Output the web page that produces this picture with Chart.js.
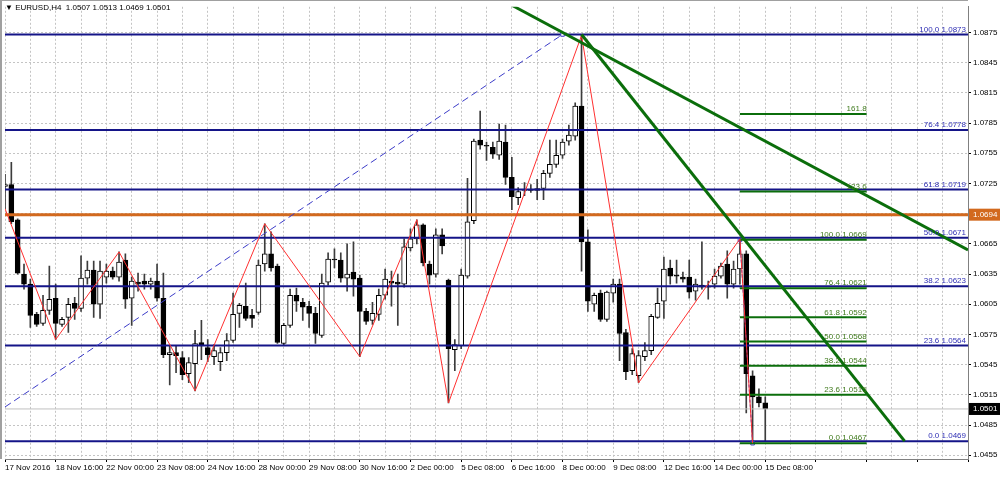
<!DOCTYPE html>
<html>
<head>
<meta charset="utf-8">
<script src="https://cdn.jsdelivr.net/npm/chart.js@4.4.1/dist/chart.umd.min.js"></script>
<style>
html, body { margin: 0; padding: 0; background: #fff; }
#wrap { width: 1000px; height: 477px; }
</style>
</head>
<body>
<div id="wrap"><canvas id="chart" width="1000" height="477"></canvas></div>
<script>
// ------------------------- data -------------------------
const symbol = 'EURUSD,H4';

// H4 candles, bar 0 = 17 Nov 2016 08:00
const opens = [
  1.0722, 1.0724, 1.0689, 1.0635, 1.0625, 1.0595, 1.0586, 1.0599, 1.0611, 1.0585,
  1.0592, 1.0606, 1.0601, 1.0631, 1.0639, 1.0605, 1.0632, 1.0638, 1.0632, 1.0649,
  1.0611, 1.0627, 1.0628, 1.0625, 1.0628, 1.0611, 1.0555, 1.0557, 1.0552, 1.0536,
  1.0546, 1.0567, 1.0562, 1.0553, 1.0548, 1.0557, 1.0569, 1.0596, 1.0603, 1.0594,
  1.0597, 1.0645, 1.0655, 1.0643, 1.0566, 1.0584, 1.0614, 1.0607, 1.0603, 1.0596,
  1.0574, 1.0627, 1.0650, 1.0649, 1.0631, 1.0637, 1.0631, 1.0598, 1.0589, 1.0595,
  1.0614, 1.0628, 1.0627, 1.0625, 1.0661, 1.0670, 1.0684, 1.0645, 1.0635, 1.0674,
  1.0629, 1.0560, 1.0564, 1.0633, 1.0688, 1.0768, 1.0763, 1.0761, 1.0753, 1.0766,
  1.0731, 1.0711, 1.0718, 1.0719, 1.0718, 1.0720, 1.0735, 1.0744, 1.0753, 1.0767,
  1.0772, 1.0802, 1.0667, 1.0605, 1.0616, 1.0590, 1.0616, 1.0625, 1.0577, 1.0539,
  1.0534, 1.0553, 1.0559, 1.0592, 1.0608, 1.0641, 1.0634, 1.0632, 1.0632, 1.0618,
  1.0624, 1.0623, 1.0625, 1.0633, 1.0645, 1.0625, 1.0640, 1.0655, 1.0534, 1.0513,
  1.0507
];
const highs = [
  1.0734, 1.0746, 1.0690, 1.0645, 1.0630, 1.0597, 1.0614, 1.0643, 1.0625, 1.0592,
  1.0611, 1.0612, 1.0653, 1.0648, 1.0648, 1.0648, 1.0645, 1.0642, 1.0657, 1.0655,
  1.0632, 1.0636, 1.0635, 1.0631, 1.0645, 1.0636, 1.0564, 1.0564, 1.0558, 1.0552,
  1.0579, 1.0589, 1.0570, 1.0565, 1.0562, 1.0576, 1.0616, 1.0606, 1.0626, 1.0600,
  1.0649, 1.0685, 1.0677, 1.0645, 1.0586, 1.0620, 1.0621, 1.0611, 1.0608, 1.0602,
  1.0635, 1.0656, 1.0660, 1.0656, 1.0665, 1.0667, 1.0634, 1.0601, 1.0607, 1.0620,
  1.0640, 1.0638, 1.0635, 1.0670, 1.0680, 1.0689, 1.0685, 1.0648, 1.0680, 1.0680,
  1.0630, 1.0570, 1.0640, 1.0730, 1.0769, 1.0797, 1.0766, 1.0766, 1.0784, 1.0783,
  1.0751, 1.0721, 1.0726, 1.0724, 1.0729, 1.0738, 1.0768, 1.0768, 1.0769, 1.0783,
  1.0805, 1.0872, 1.0679, 1.0616, 1.0619, 1.0618, 1.0630, 1.0630, 1.0580, 1.0561,
  1.0559, 1.0567, 1.0595, 1.0621, 1.0652, 1.0649, 1.0649, 1.0637, 1.0649, 1.0630,
  1.0667, 1.0628, 1.0640, 1.0646, 1.0658, 1.0648, 1.0670, 1.0658, 1.0539, 1.0521,
  1.0513
];
const lows = [
  1.0700, 1.0685, 1.0635, 1.0620, 1.0582, 1.0583, 1.0584, 1.0595, 1.0570, 1.0583,
  1.0577, 1.0590, 1.0598, 1.0625, 1.0592, 1.0591, 1.0626, 1.0630, 1.0628, 1.0601,
  1.0584, 1.0618, 1.0620, 1.0620, 1.0608, 1.0552, 1.0525, 1.0537, 1.0530, 1.0527,
  1.0519, 1.0550, 1.0548, 1.0545, 1.0539, 1.0549, 1.0567, 1.0582, 1.0589, 1.0582,
  1.0595, 1.0638, 1.0638, 1.0566, 1.0564, 1.0582, 1.0598, 1.0589, 1.0582, 1.0566,
  1.0572, 1.0624, 1.0641, 1.0627, 1.0618, 1.0613, 1.0553, 1.0585, 1.0585, 1.0589,
  1.0610, 1.0603, 1.0584, 1.0622, 1.0658, 1.0665, 1.0643, 1.0625, 1.0632, 1.0655,
  1.0507, 1.0539, 1.0561, 1.0631, 1.0685, 1.0759, 1.0748, 1.0750, 1.0749, 1.0724,
  1.0699, 1.0704, 1.0713, 1.0716, 1.0709, 1.0709, 1.0731, 1.0741, 1.0750, 1.0763,
  1.0768, 1.0638, 1.0598, 1.0598, 1.0588, 1.0588, 1.0607, 1.0549, 1.0530, 1.0535,
  1.0527, 1.0549, 1.0555, 1.0591, 1.0591, 1.0625, 1.0626, 1.0627, 1.0611, 1.0609,
  1.0620, 1.0610, 1.0621, 1.0631, 1.0611, 1.0621, 1.0625, 1.0497, 1.0467, 1.0503,
  1.0469
];
const closes = [
  1.0724, 1.0687, 1.0636, 1.0625, 1.0594, 1.0585, 1.0599, 1.0610, 1.0586, 1.0590,
  1.0605, 1.0601, 1.0631, 1.0639, 1.0605, 1.0638, 1.0638, 1.0632, 1.0647, 1.0610,
  1.0628, 1.0625, 1.0625, 1.0628, 1.0611, 1.0555, 1.0557, 1.0554, 1.0535, 1.0547,
  1.0566, 1.0564, 1.0555, 1.0559, 1.0557, 1.0569, 1.0595, 1.0604, 1.0591, 1.0591,
  1.0644, 1.0655, 1.0641, 1.0567, 1.0584, 1.0614, 1.0608, 1.0602, 1.0596, 1.0576,
  1.0626, 1.0650, 1.0649, 1.0631, 1.0635, 1.0630, 1.0598, 1.0588, 1.0596, 1.0614,
  1.0630, 1.0626, 1.0625, 1.0662, 1.0670, 1.0684, 1.0646, 1.0634, 1.0674, 1.0663,
  1.0561, 1.0565, 1.0634, 1.0687, 1.0767, 1.0763, 1.0762, 1.0754, 1.0767, 1.0731,
  1.0712, 1.0717, 1.0719, 1.0718, 1.0720, 1.0735, 1.0744, 1.0753, 1.0766, 1.0773,
  1.0802, 1.0667, 1.0608, 1.0614, 1.0590, 1.0617, 1.0625, 1.0576, 1.0538, 1.0556,
  1.0554, 1.0559, 1.0593, 1.0606, 1.0640, 1.0633, 1.0633, 1.0630, 1.0617, 1.0625,
  1.0622, 1.0622, 1.0633, 1.0643, 1.0625, 1.0640, 1.0655, 1.0536, 1.0513, 1.0507,
  1.0501
];

// time axis: one label every 8 bars
const timeLabels = [
  '17 Nov 2016', '18 Nov 16:00', '22 Nov 00:00', '23 Nov 08:00', '24 Nov 16:00',
  '28 Nov 00:00', '29 Nov 08:00', '30 Nov 16:00', '2 Dec 00:00', '5 Dec 08:00',
  '6 Dec 16:00', '8 Dec 00:00', '9 Dec 08:00', '12 Dec 16:00', '14 Dec 00:00',
  '15 Dec 08:00'
];
const priceTicks = [1.0455, 1.0485, 1.0515, 1.0545, 1.0575, 1.0605, 1.0635, 1.0665,
  1.0695, 1.0725, 1.0755, 1.0785, 1.0815, 1.0845, 1.0875];

// zigzag turning points [bar, price]
const zigzagBars = [0, 8, 18, 30, 41, 56, 65, 70, 91, 100, 116, 118];
const zigzagPrices = [1.0700, 1.0570, 1.0657, 1.0519, 1.0685, 1.0553, 1.0689, 1.0507, 1.0872, 1.0527, 1.0670, 1.0467];

// big fibo (blue, full width)
const fibALevels = [0, 23.6, 38.2, 50, 61.8, 76.4, 100];
const fibAPrices = [1.0469, 1.0564, 1.0623, 1.0671, 1.0719, 1.0778, 1.0873];
const fibABars = [0, 88];
const fibAEnds = [1.0503, 1.0873];

// small fibo (green, short)
const fibBLevels = [0, 23.6, 38.2, 50, 61.8, 76.4, 100, 123.6, 161.8];
const fibBPrices = [1.0467, 1.0515, 1.0544, 1.0568, 1.0592, 1.0621, 1.0669, 1.0717, 1.0794];
const fibBBars = [116, 136];
const fibBDiagBars = [116, 118];
const fibBDiagPrices = [1.0669, 1.0467];

// trend lines
const trendABars = [80, 152];
const trendAPrices = [1.0902, 1.0659];
const trendBBars = [91, 142];
const trendBPrices = [1.0873, 1.0469];

const markerPrice = 1.0694;
const lastPrice = closes[closes.length - 1];

const xMin = 0, xMax = 152;
const yMin = 1.04513, yMax = 1.09005;

// ------------------------- datasets -------------------------
const bars = opens.map((_, i) => i);
const wicks = bars.map(i => ({ x: i, y: [lows[i], highs[i]] }));
const bodies = bars.map(i => ({ x: i, y: [opens[i], closes[i]] }));
const bodyFill = bars.map(i => closes[i] >= opens[i] ? '#ffffff' : '#000000');

function line(xs, ys, color, width, extra) {
    return Object.assign({
        type: 'line',
        data: xs.map((x, k) => ({ x: x, y: ys[k] })),
        borderColor: color,
        borderWidth: width,
        pointRadius: 0,
        fill: false,
        tension: 0,
        order: 1
    }, extra || {});
}

const datasets = [];

// blue fibo levels
fibAPrices.forEach(p => datasets.push(line([xMin, xMax], [p, p], '#141488', 2, { order: 3 })));
// orange marker line
datasets.push(line([xMin, xMax], [markerPrice, markerPrice], '#d2691e', 3, { order: 3 }));
// last price line
datasets.push(line([xMin, xMax], [lastPrice, lastPrice], '#c0c0c0', 1, { order: 4 }));
// blue dashed fibo base
datasets.push(line(fibABars, fibAEnds, '#3c3cc8', 1, {
    borderDash: [7, 4], order: 2,
    pointRadius: [0, 2.5], pointStyle: 'rect', pointBorderColor: '#3c3cc8', pointBackgroundColor: '#ffffff', pointBorderWidth: 1
}));
// green fibo levels
fibBPrices.forEach(p => datasets.push(line(fibBBars, [p, p], '#0b6e0b', 2, { order: 2 })));
datasets.push(line(fibBDiagBars, fibBDiagPrices, '#3c3cc8', 1, {
    order: 2, borderDash: [3, 2],
    pointRadius: 2.5, pointStyle: 'rect', pointBorderColor: '#3c3cc8', pointBackgroundColor: 'rgba(255,255,255,0)', pointBorderWidth: 1
}));
// zigzag
datasets.push(line(zigzagBars, zigzagPrices, '#ff3030', 1, { order: 1 }));
// trend lines
datasets.push(line(trendABars, trendAPrices, '#0b6e0b', 3, { order: 0 }));
datasets.push(line(trendBBars, trendBPrices, '#0b6e0b', 3, { order: 0 }));

// candles
datasets.push({
    type: 'bar', data: bodies, grouped: false, order: 10,
    barThickness: 5, minBarLength: 1,
    backgroundColor: bodyFill, borderColor: '#000000', borderWidth: 1, borderSkipped: false
});
datasets.push({
    type: 'bar', data: wicks, grouped: false, order: 11,
    barThickness: 1, backgroundColor: '#3c3c3c', borderWidth: 0
});

// ------------------------- overlay texts -------------------------
function priceBox(ctx, y, a, price, color) {
    const py = y.getPixelForValue(price);
    ctx.fillStyle = color;
    ctx.fillRect(a.right + 1, py - 6, 1000 - a.right - 1, 12);
    ctx.fillStyle = '#ffffff';
    ctx.textAlign = 'left';
    ctx.textBaseline = 'middle';
    ctx.fillText(price.toFixed(4), a.right + 5, py);
}

const overlay = {
    id: 'overlay',
    beforeDraw(chart) {
        const { ctx, chartArea: a } = chart;
        ctx.save();
        ctx.fillStyle = '#ffffff';
        ctx.fillRect(0, 0, chart.width, chart.height);
        ctx.fillStyle = '#a0a0a0';
        ctx.fillRect(0, 0, 2, a.bottom);
        ctx.fillRect(0, 0, a.right, 1);
        ctx.restore();
    },
    afterDraw(chart) {
        const { ctx, chartArea: a, scales: { x, y } } = chart;
        ctx.save();
        ctx.font = '8px "Liberation Sans", Arial, sans-serif';

        // blue fibo labels
        ctx.textAlign = 'right';
        ctx.textBaseline = 'bottom';
        ctx.fillStyle = '#2f2fb4';
        fibALevels.forEach((lv, k) => {
            ctx.fillText(lv.toFixed(1) + ' ' + fibAPrices[k].toFixed(4), a.right - 2, y.getPixelForValue(fibAPrices[k]) - 1);
        });

        // green fibo labels
        ctx.fillStyle = '#3f7a1c';
        const gx = x.getPixelForValue(fibBBars[1]);
        fibBLevels.forEach((lv, k) => {
            const t = lv > 100 ? lv.toFixed(1) : lv.toFixed(1) + ' ' + fibBPrices[k].toFixed(4);
            ctx.fillText(t, gx, y.getPixelForValue(fibBPrices[k]) - 1);
        });

        // price boxes on the axis
        priceBox(ctx, y, a, markerPrice, '#d2691e');
        priceBox(ctx, y, a, lastPrice, '#000000');

        // header
        const n = opens.length - 1;
        ctx.fillStyle = '#000000';
        ctx.textAlign = 'left';
        ctx.textBaseline = 'middle';
        ctx.fillText('\u25BC ' + symbol + '  ' + [opens[n], highs[n], lows[n], closes[n]].map(v => v.toFixed(4)).join(' '), 5, 8);
        ctx.restore();
    }
};

// ------------------------- chart -------------------------
Chart.defaults.font.family = '"Liberation Sans", Arial, sans-serif';
Chart.defaults.font.size = 8;
Chart.defaults.color = '#000000';

const gridStyle = { color: '#c4c4c4', lineWidth: 1, tickColor: '#000000', tickLength: 3, offset: false };

new Chart(document.getElementById('chart'), {
    type: 'bar',
    data: { datasets: datasets },
    plugins: [overlay],
    options: {
        responsive: false,
        devicePixelRatio: 1,
        animation: false,
        layout: { padding: { top: 2, left: 3, right: 0, bottom: 0 } },
        plugins: { legend: { display: false }, tooltip: { enabled: false } },
        scales: {
            x: {
                type: 'linear',
                min: xMin, max: xMax,
                offset: false,
                grid: Object.assign({}, gridStyle, {
                    tickColor: ctx => (ctx.tick && ctx.tick.value % 8 === 0 ? '#000000' : 'rgba(0,0,0,0)')
                }),
                border: { display: true, color: '#808080', width: 1, dash: [2, 2] },
                afterBuildTicks: scale => {
                    const t = [];
                    for (let v = xMin; v <= xMax; v += 4) t.push({ value: v });
                    scale.ticks = t;
                },
                afterFit: scale => { scale.height = 18; },
                ticks: {
                    autoSkip: false, maxRotation: 0, align: 'start', padding: 1,
                    callback: v => (v % 8 === 0 && timeLabels[v / 8] !== undefined ? timeLabels[v / 8] : '')
                }
            },
            y: {
                position: 'right',
                min: yMin, max: yMax,
                grid: gridStyle,
                border: { display: true, color: '#808080', width: 1, dash: [2, 2] },
                afterBuildTicks: scale => { scale.ticks = priceTicks.map(v => ({ value: v })); },
                afterFit: scale => { scale.width = 32; },
                ticks: { padding: 2, callback: v => Number(v).toFixed(4) }
            }
        }
    }
});
</script>
</body>
</html>
